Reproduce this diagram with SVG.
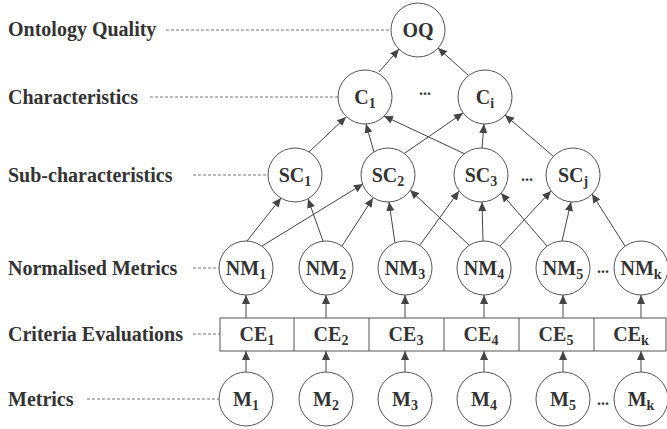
<svg xmlns="http://www.w3.org/2000/svg" width="667" height="429" viewBox="0 0 667 429">
<style>
.lbl{font-family:"Liberation Serif",serif;font-weight:bold;font-size:20px;fill:#333}
.nt{font-family:"Liberation Serif",serif;font-weight:bold;font-size:20px;fill:#333;text-anchor:middle}
.sub{font-size:14px}
.nd{fill:#fff;stroke:#555;stroke-width:1}
.dash{stroke:#777;stroke-width:1;stroke-dasharray:3,2;fill:none}
.e{stroke:#444;stroke-width:1;fill:none;marker-end:url(#ah)}
.dots{font-family:"Liberation Serif",serif;font-weight:bold;font-size:16px;fill:#333;text-anchor:middle}
</style>
<defs>
<marker id="ah" viewBox="0 0 10 10" refX="10" refY="5" markerWidth="9" markerHeight="9" markerUnits="userSpaceOnUse" orient="auto">
<path d="M0,0.5 L10,5 L0,9.5 Z" fill="#444"/>
</marker>
</defs>
<rect width="667" height="429" fill="#fff"/>
<g id="labels">
<text class="lbl" x="8" y="36">Ontology Quality</text>
<text class="lbl" x="8" y="104">Characteristics</text>
<text class="lbl" x="8" y="182">Sub-characteristics</text>
<text class="lbl" x="8" y="275">Normalised Metrics</text>
<text class="lbl" x="8" y="341">Criteria Evaluations</text>
<text class="lbl" x="8" y="406">Metrics</text>
<line class="dash" x1="166" y1="30" x2="391" y2="30"/>
<line class="dash" x1="150" y1="97" x2="338" y2="97"/>
<line class="dash" x1="193" y1="175" x2="268" y2="175"/>
<line class="dash" x1="193" y1="268" x2="219" y2="268"/>
<line class="dash" x1="193" y1="334" x2="220" y2="334"/>
<line class="dash" x1="87" y1="399" x2="219" y2="399"/>
</g>
<g id="connectors">
<line class="e" x1="379" y1="72" x2="399" y2="49"/>
<line class="e" x1="468" y1="75" x2="438" y2="48"/>
<line class="e" x1="309" y1="152" x2="346" y2="117"/>
<line class="e" x1="374" y1="152" x2="366" y2="124"/>
<line class="e" x1="465" y1="154" x2="384" y2="116"/>
<line class="e" x1="405" y1="153" x2="463" y2="113"/>
<line class="e" x1="482" y1="148" x2="484" y2="124"/>
<line class="e" x1="553" y1="156" x2="505" y2="115"/>
<line class="e" x1="247" y1="241" x2="281" y2="198"/>
<line class="e" x1="262" y1="246" x2="363" y2="184"/>
<line class="e" x1="323" y1="241" x2="308" y2="199"/>
<line class="e" x1="342" y1="246" x2="373" y2="198"/>
<line class="e" x1="395" y1="243" x2="389" y2="202"/>
<line class="e" x1="420" y1="245" x2="459" y2="191"/>
<line class="e" x1="469" y1="245" x2="410" y2="190"/>
<line class="e" x1="483" y1="241" x2="482" y2="202"/>
<line class="e" x1="500" y1="246" x2="551" y2="191"/>
<line class="e" x1="547" y1="246" x2="501" y2="193"/>
<line class="e" x1="562" y1="241" x2="571" y2="202"/>
<line class="e" x1="625" y1="246" x2="592" y2="194"/>
<line class="e" x1="246" y1="318" x2="246" y2="295"/>
<line class="e" x1="326" y1="318" x2="326" y2="295"/>
<line class="e" x1="405" y1="318" x2="405" y2="295"/>
<line class="e" x1="484" y1="318" x2="484" y2="295"/>
<line class="e" x1="563" y1="318" x2="563" y2="295"/>
<line class="e" x1="641" y1="318" x2="641" y2="295"/>
<line class="e" x1="246" y1="372" x2="246" y2="351"/>
<line class="e" x1="326" y1="372" x2="326" y2="351"/>
<line class="e" x1="405" y1="372" x2="405" y2="351"/>
<line class="e" x1="484" y1="372" x2="484" y2="351"/>
<line class="e" x1="563" y1="372" x2="563" y2="351"/>
<line class="e" x1="641" y1="372" x2="641" y2="351"/>
</g>
<g id="OQ"><circle class="nd" cx="418" cy="30" r="27"/><text class="nt" x="418" y="37">OQ</text></g>
<g id="C1"><circle class="nd" cx="365" cy="97" r="27"/><text class="nt" x="365" y="104">C<tspan class="sub" dy="4">1</tspan></text></g>
<text class="dots" x="425" y="95">...</text>
<g id="Ci"><circle class="nd" cx="485" cy="97" r="27"/><text class="nt" x="485" y="104">C<tspan class="sub" dy="4">i</tspan></text></g>
<g id="SC1"><circle class="nd" cx="295" cy="175" r="27"/><text class="nt" x="295" y="182">SC<tspan class="sub" dy="4">1</tspan></text></g>
<g id="SC2"><circle class="nd" cx="388" cy="175" r="27"/><text class="nt" x="388" y="182">SC<tspan class="sub" dy="4">2</tspan></text></g>
<g id="SC3"><circle class="nd" cx="481" cy="175" r="27"/><text class="nt" x="481" y="182">SC<tspan class="sub" dy="4">3</tspan></text></g>
<text class="dots" x="527" y="181">...</text>
<g id="SCj"><circle class="nd" cx="573" cy="175" r="27"/><text class="nt" x="573" y="182">SC<tspan class="sub" dy="4">j</tspan></text></g>
<g id="NM1"><circle class="nd" cx="246" cy="268" r="27"/><text class="nt" x="246" y="275">NM<tspan class="sub" dy="4">1</tspan></text></g>
<g id="NM2"><circle class="nd" cx="326" cy="268" r="27"/><text class="nt" x="326" y="275">NM<tspan class="sub" dy="4">2</tspan></text></g>
<g id="NM3"><circle class="nd" cx="405" cy="268" r="27"/><text class="nt" x="405" y="275">NM<tspan class="sub" dy="4">3</tspan></text></g>
<g id="NM4"><circle class="nd" cx="484" cy="268" r="27"/><text class="nt" x="484" y="275">NM<tspan class="sub" dy="4">4</tspan></text></g>
<g id="NM5"><circle class="nd" cx="563" cy="268" r="27"/><text class="nt" x="563" y="275">NM<tspan class="sub" dy="4">5</tspan></text></g>
<text class="dots" x="603" y="273">...</text>
<g id="NMk"><circle class="nd" cx="641" cy="268" r="27"/><text class="nt" x="641" y="275">NM<tspan class="sub" dy="4">k</tspan></text></g>
<g id="CE">
<rect class="nd" x="220" y="318" width="446" height="33"/>
<line stroke="#555" x1="294" y1="318" x2="294" y2="351"/>
<line stroke="#555" x1="369" y1="318" x2="369" y2="351"/>
<line stroke="#555" x1="444" y1="318" x2="444" y2="351"/>
<line stroke="#555" x1="519" y1="318" x2="519" y2="351"/>
<line stroke="#555" x1="594" y1="318" x2="594" y2="351"/>
<text class="nt" x="257" y="341">CE<tspan class="sub" dy="4">1</tspan></text>
<text class="nt" x="331" y="341">CE<tspan class="sub" dy="4">2</tspan></text>
<text class="nt" x="406" y="341">CE<tspan class="sub" dy="4">3</tspan></text>
<text class="nt" x="481" y="341">CE<tspan class="sub" dy="4">4</tspan></text>
<text class="nt" x="556" y="341">CE<tspan class="sub" dy="4">5</tspan></text>
<text class="nt" x="631" y="341">CE<tspan class="sub" dy="4">k</tspan></text>
</g>
<g id="M1"><circle class="nd" cx="246" cy="399" r="27"/><text class="nt" x="246" y="406">M<tspan class="sub" dy="4">1</tspan></text></g>
<g id="M2"><circle class="nd" cx="326" cy="399" r="27"/><text class="nt" x="326" y="406">M<tspan class="sub" dy="4">2</tspan></text></g>
<g id="M3"><circle class="nd" cx="405" cy="399" r="27"/><text class="nt" x="405" y="406">M<tspan class="sub" dy="4">3</tspan></text></g>
<g id="M4"><circle class="nd" cx="484" cy="399" r="27"/><text class="nt" x="484" y="406">M<tspan class="sub" dy="4">4</tspan></text></g>
<g id="M5"><circle class="nd" cx="563" cy="399" r="27"/><text class="nt" x="563" y="406">M<tspan class="sub" dy="4">5</tspan></text></g>
<text class="dots" x="603" y="405">...</text>
<g id="Mk"><circle class="nd" cx="641" cy="399" r="27"/><text class="nt" x="641" y="406">M<tspan class="sub" dy="4">k</tspan></text></g>
</svg>
